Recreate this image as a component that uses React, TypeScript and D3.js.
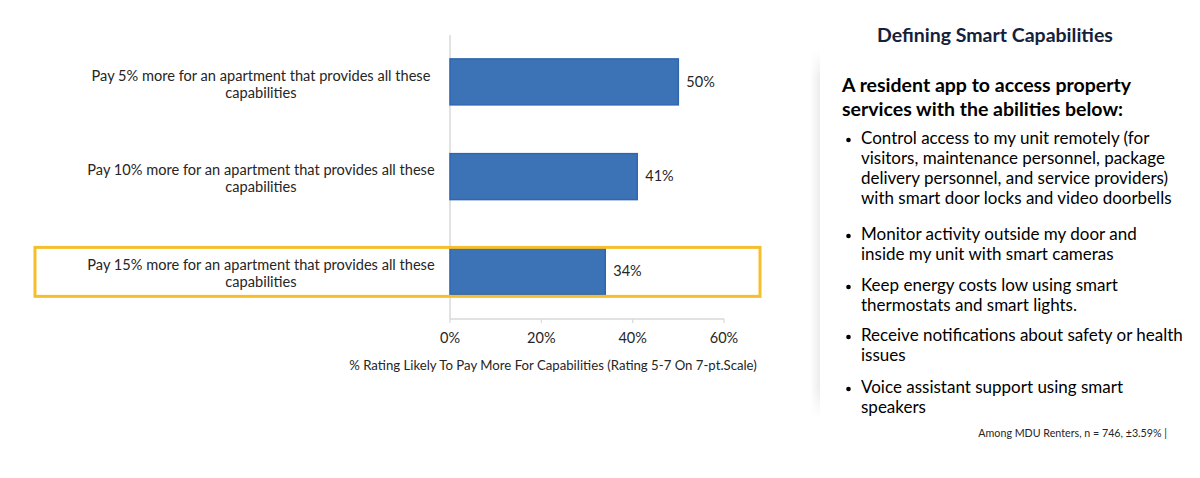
import React from "react";
import * as d3 from "d3";

const categories = [
  ["Pay 5% more for an apartment that provides all these", "capabilities"],
  ["Pay 10% more for an apartment that provides all these", "capabilities"],
  ["Pay 15% more for an apartment that provides all these", "capabilities"],
];
const values = [50, 41, 34];
const xTicks = [0, 20, 40, 60];
const axisTitle = "% Rating Likely To Pay More For Capabilities (Rating 5-7 On 7-pt.Scale)";
const panelTitle = "Defining Smart Capabilities";
const heading = ["A resident app to access property", "services with the abilities below:"];
const bullets = [
  [
    "Control access to my unit remotely (for",
    "visitors, maintenance personnel, package",
    "delivery personnel, and service providers)",
    "with smart door locks and video doorbells",
  ],
  ["Monitor activity outside my door and", "inside my unit with smart cameras"],
  ["Keep energy costs low using smart", "thermostats and smart lights."],
  ["Receive notifications about safety or health", "issues"],
  ["Voice assistant support using smart", "speakers"],
];
const bulletTops = [140, 236, 287, 337, 389];
const footnote = "Among MDU Renters, n = 746, ±3.59% |";
const highlightIndex = 2;

const FONT = "Lato, 'Open Sans', sans-serif";

export default function App() {
  const W = 1200;
  const H = 478;
  const x = d3.scaleLinear().domain([0, 60]).range([450, 724]);
  const keys = categories.map((_, i) => String(i));
  const y = d3
    .scaleBand<string>()
    .domain(keys)
    .range([34.5, 318.75])
    .paddingInner(0.515)
    .paddingOuter(0.2575);
  const axisY = 319;

  return (
    <svg
      width={W}
      height={H}
      style={{ position: "absolute", left: 0, top: 0, background: "#fff" }}
      fontFamily={FONT}
    >
      <defs>
        <linearGradient id="shadow" x1="0" x2="1" y1="0" y2="0">
          <stop offset="0" stopColor="#fff" stopOpacity="1" />
          <stop offset="1" stopColor="#ececec" stopOpacity="1" />
        </linearGradient>
        <linearGradient id="shadowV" x1="0" x2="0" y1="0" y2="1">
          <stop offset="0" stopColor="#fff" stopOpacity="1" />
          <stop offset="0.08" stopColor="#fff" stopOpacity="0" />
          <stop offset="0.92" stopColor="#fff" stopOpacity="0" />
          <stop offset="1" stopColor="#fff" stopOpacity="1" />
        </linearGradient>
      </defs>
      <rect x={0} y={0} width={W} height={H} fill="#fff" />
      {/* panel shadow */}
      <rect x={810} y={50} width={10} height={368} fill="url(#shadow)" />
      <rect x={810} y={50} width={10} height={368} fill="url(#shadowV)" />

      {/* axis */}
      <line x1={450} x2={450} y1={35} y2={axisY} stroke="#d9d9d9" strokeWidth={1.5} />
      <line x1={x(0)} x2={x(60)} y1={axisY} y2={axisY} stroke="#d9d9d9" strokeWidth={1.5} />
      {xTicks.map((t) => (
        <g key={t}>
          <line x1={x(t)} x2={x(t)} y1={axisY} y2={axisY + 4} stroke="#d9d9d9" strokeWidth={1.2} />
          <text x={x(t)} y={339} textAnchor="middle" dominantBaseline="middle" fontSize={14.5} fill="#262626">
            {t}%
          </text>
        </g>
      ))}
      <text x={553} y={367} textAnchor="middle" dominantBaseline="middle" fontSize={13.2} fill="#262626">
        {axisTitle}
      </text>

      {/* bars */}
      {values.map((v, i) => {
        const by = y(String(i))!;
        const bh = y.bandwidth();
        return (
          <g key={i}>
            <rect
              x={x(0)}
              y={by}
              width={x(v) - x(0)}
              height={bh}
              fill="#3b73b6"
              stroke="#2e67b1"
              strokeWidth={1.5}
            />
            <text
              x={x(v) + 8}
              y={by + bh / 2 + 1}
              dominantBaseline="middle"
              fontSize={14.5}
              fill="#262626"
            >
              {v}%
            </text>
            {categories[i].map((line, j) => (
              <text
                key={j}
                x={261}
                y={by + bh / 2 - 5 + j * 17}
                textAnchor="middle"
                dominantBaseline="middle"
                fontSize={14.6}
                fill="#262626"
              >
                {line}
              </text>
            ))}
          </g>
        );
      })}

      {/* highlight box */}
      {(() => {
        const by = y(String(highlightIndex))!;
        return (
          <rect
            x={35}
            y={by - 1}
            width={725}
            height={y.bandwidth() + 3}
            fill="none"
            stroke="#f4be2c"
            strokeWidth={3}
          />
        );
      })()}

      {/* right panel */}
      <text x={995} y={37} textAnchor="middle" dominantBaseline="middle" fontSize={19.5} fontWeight="bold" fill="#14213d">
        {panelTitle}
      </text>
      {heading.map((h, i) => (
        <text key={i} x={842} y={87 + i * 24} dominantBaseline="middle" fontSize={19.5} fontWeight="bold" fill="#000">
          {h}
        </text>
      ))}
      {bullets.map((b, i) => (
        <g key={i}>
          <circle cx={848.5} cy={bulletTops[i]} r={2.3} fill="#000" />
          {b.map((line, j) => (
            <text
              key={j}
              x={861}
              y={bulletTops[i] + j * 20}
              dominantBaseline="middle"
              fontSize={17}
              fill="#000"
            >
              {line}
            </text>
          ))}
        </g>
      ))}
      <text x={1167} y={434} textAnchor="end" dominantBaseline="middle" fontSize={10.7} fill="#262626">
        {footnote}
      </text>
    </svg>
  );
}
